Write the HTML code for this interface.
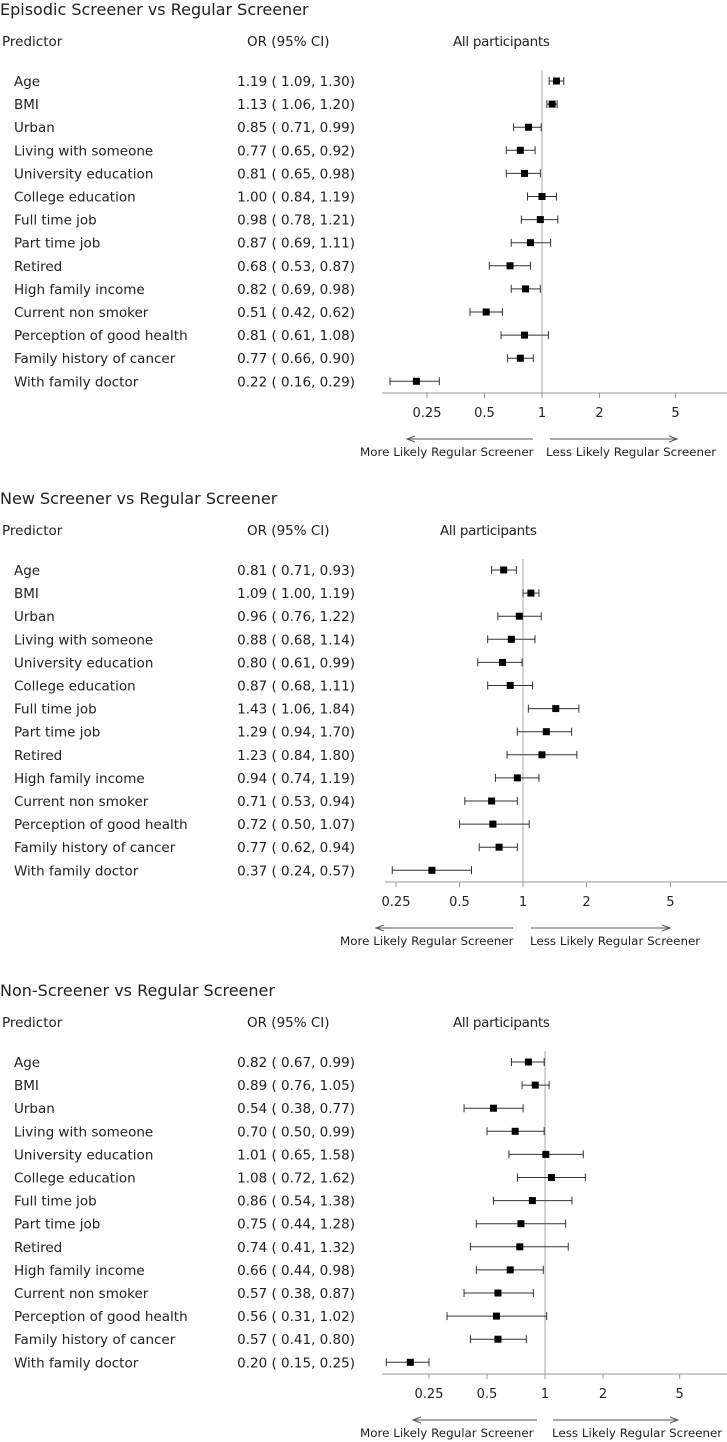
<!DOCTYPE html>
<html><head><meta charset="utf-8"><style>
html,body{margin:0;padding:0;background:#fff;}
svg{display:block;font-family:"DejaVu Sans","Liberation Sans",sans-serif;}
</style></head><body>
<svg id="chart" width="727" height="1442" viewBox="0 0 727 1442" xmlns="http://www.w3.org/2000/svg"></svg>
<script>
const predictors = ["Age","BMI","Urban","Living with someone","University education","College education","Full time job","Part time job","Retired","High family income","Current non smoker","Perception of good health","Family history of cancer","With family doctor"];
const titles = ["Episodic Screener vs Regular Screener","New Screener vs Regular Screener","Non-Screener vs Regular Screener"];
const or1 = [1.19,1.13,0.85,0.77,0.81,1.00,0.98,0.87,0.68,0.82,0.51,0.81,0.77,0.22];
const lo1 = [1.09,1.06,0.71,0.65,0.65,0.84,0.78,0.69,0.53,0.69,0.42,0.61,0.66,0.16];
const hi1 = [1.30,1.20,0.99,0.92,0.98,1.19,1.21,1.11,0.87,0.98,0.62,1.08,0.90,0.29];
const or2 = [0.81,1.09,0.96,0.88,0.80,0.87,1.43,1.29,1.23,0.94,0.71,0.72,0.77,0.37];
const lo2 = [0.71,1.00,0.76,0.68,0.61,0.68,1.06,0.94,0.84,0.74,0.53,0.50,0.62,0.24];
const hi2 = [0.93,1.19,1.22,1.14,0.99,1.11,1.84,1.70,1.80,1.19,0.94,1.07,0.94,0.57];
const or3 = [0.82,0.89,0.54,0.70,1.01,1.08,0.86,0.75,0.74,0.66,0.57,0.56,0.57,0.20];
const lo3 = [0.67,0.76,0.38,0.50,0.65,0.72,0.54,0.44,0.41,0.44,0.38,0.31,0.41,0.15];
const hi3 = [0.99,1.05,0.77,0.99,1.58,1.62,1.38,1.28,1.32,0.98,0.87,1.02,0.80,0.25];
const tickVals = [0.25,0.5,1,2,5];
const tickLabels = ["0.25","0.5","1","2","5"];

const NS="http://www.w3.org/2000/svg";
const svg=document.getElementById('chart');
function mk(tag,attrs,parent){const e=document.createElementNS(NS,tag);for(const k in attrs)e.setAttribute(k,attrs[k]);(parent||svg).appendChild(e);return e;}
function fmt(v){return v.toFixed(2);}

const panels=[
 {dy:0,x1:542,k:57.5,axL:382,axR:727,ap:453,la:[407,533],ra:[550,677],lt:360,rt:546,ors:or1,los:lo1,his:hi1},
 {dy:489,x1:523,k:63.5,axL:385,axR:727,ap:440,la:[376,513],ra:[531,670],lt:340,rt:530,ors:or2,los:lo2,his:hi2},
 {dy:981,x1:545,k:58,axL:382,axR:727,ap:453,la:[413,537],ra:[553,678],lt:360,rt:552,ors:or3,los:lo3,his:hi3}
];
panels.forEach((p,pi)=>{
 const g=mk('g',{});
 
 
 const X=v=>p.x1+Math.log2(v)*p.k;
 const t=mk('text',{x:0,y:p.dy+15,'font-size':16,fill:'#222'},g);t.textContent=titles[pi];
 
 const h1=mk('text',{x:2,y:p.dy+46,'font-size':13.5,fill:'#222'},g);h1.textContent='Predictor';
 
 const h2=mk('text',{x:247,y:p.dy+46,'font-size':13.5,fill:'#222'},g);h2.textContent='OR (95% CI)';
 
 const h3=mk('text',{x:p.ap,y:p.dy+46,'font-size':13.5,fill:'#222','letter-spacing':'-0.3'},g);h3.textContent='All participants';
 
 const axisY=p.dy+393;
 const ref=mk('line',{x1:X(1),x2:X(1),y1:p.dy+70,y2:axisY,stroke:'#aaa','stroke-width':1},g);
 
 predictors.forEach((name,i)=>{
  const cy=p.dy+81+i*23.1;
  const lb=mk('text',{x:14,y:cy+5,'font-size':13.5,fill:'#222'},g);lb.textContent=name;
  
  const vt=mk('text',{x:355,y:cy+5,'font-size':13.5,fill:'#222','text-anchor':'end'},g);
  vt.textContent=fmt(p.ors[i])+' ( '+fmt(p.los[i])+',  '+fmt(p.his[i])+')';
  
  const a=X(p.los[i]),b=X(p.his[i]);
  const ci=mk('path',{d:`M${a},${cy}H${b}M${a},${cy-4}V${cy+4}M${b},${cy-4}V${cy+4}`,stroke:'#333','stroke-width':1,fill:'none'},g);
  
  const m=mk('rect',{x:X(p.ors[i])-3.5,y:cy-3.5,width:7,height:7,fill:'#000'},g);
  
 });
 const ax=mk('line',{x1:p.axL,x2:p.axR,y1:axisY,y2:axisY,stroke:'#999','stroke-width':1},g);
 
 tickVals.forEach((v,j)=>{
  const tk=mk('line',{x1:X(v),x2:X(v),y1:axisY,y2:axisY+5,stroke:'#999'},g);
  
  const tl=mk('text',{x:X(v),y:axisY+24,'font-size':13,fill:'#222','text-anchor':'middle'},g);tl.textContent=tickLabels[j];
  
 });
 const ay=p.dy+439;
 const la=mk('path',{d:`M${p.la[1]},${ay}H${p.la[0]}M${p.la[0]+8},${ay-3}L${p.la[0]},${ay}L${p.la[0]+8},${ay+3}`,stroke:'#555',fill:'none'},g);
 
 const ra=mk('path',{d:`M${p.ra[0]},${ay}H${p.ra[1]}M${p.ra[1]-8},${ay-3}L${p.ra[1]},${ay}L${p.ra[1]-8},${ay+3}`,stroke:'#555',fill:'none'},g);
 
 const lt=mk('text',{x:p.lt,y:ay+17,'font-size':11.9,fill:'#222'},g);lt.textContent='More Likely Regular Screener';
 
 const rt=mk('text',{x:p.rt,y:ay+17,'font-size':11.9,fill:'#222'},g);rt.textContent='Less Likely Regular Screener';
 
});
</script>
</body></html>
